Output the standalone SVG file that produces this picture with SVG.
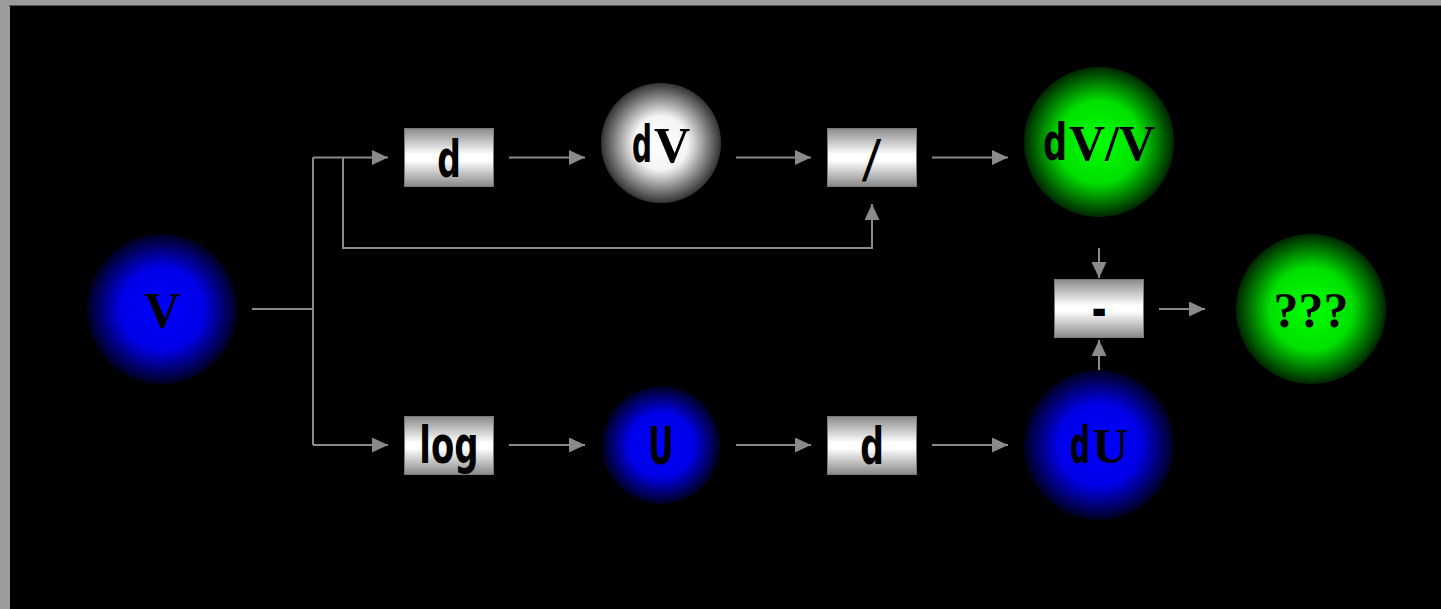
<svg xmlns="http://www.w3.org/2000/svg" width="1441" height="609" viewBox="0 0 1441 609">
  <style>
    .wire { fill: none; stroke: #8a8a8a; stroke-width: 2; }
    .arrow { marker-end: url(#head); }
    .box { stroke: #7a7a7a; stroke-width: 1; fill: url(#boxGrad); }
    .lbl { font-size: 50px; font-weight: bold; fill: #000; text-anchor: middle; }
    .serif { font-family: "Liberation Serif", "Times New Roman", serif; }
    .narrow { font-family: "DejaVu Sans", sans-serif; font-stretch: condensed; font-size: 51px; }
  </style>
  <defs>
    <marker id="head" markerUnits="userSpaceOnUse" markerWidth="16" markerHeight="15" refX="16" refY="7.5" orient="auto">
      <path d="M0,0 L16,7.5 L0,15 Z" fill="#8a8a8a"/>
    </marker>
    <linearGradient id="boxGrad" x1="0" y1="0" x2="0" y2="1">
      <stop offset="0" stop-color="#8a8a8a"/>
      <stop offset="0.45" stop-color="#ffffff"/>
      <stop offset="0.55" stop-color="#ffffff"/>
      <stop offset="1" stop-color="#888888"/>
    </linearGradient>
    <radialGradient id="blueGrad" cx="0.5" cy="0.5" r="0.5">
      <stop offset="0" stop-color="#0000ff"/>
      <stop offset="0.55" stop-color="#0000e8"/>
      <stop offset="1" stop-color="#000020"/>
    </radialGradient>
    <radialGradient id="greenGrad" cx="0.5" cy="0.5" r="0.5">
      <stop offset="0" stop-color="#00ff00"/>
      <stop offset="0.55" stop-color="#00e000"/>
      <stop offset="1" stop-color="#002600"/>
    </radialGradient>
    <radialGradient id="whiteGrad" cx="0.5" cy="0.5" r="0.5">
      <stop offset="0" stop-color="#ffffff"/>
      <stop offset="0.45" stop-color="#f4f4f4"/>
      <stop offset="1" stop-color="#333333"/>
    </radialGradient>
  </defs>

  <rect x="0" y="0" width="1441" height="609" fill="#9c9c9c"/>
  <rect x="9" y="5" width="1432" height="1.5" fill="#555555"/>
  <rect x="10" y="6" width="1431" height="603" fill="#000000"/>

  <g id="connectors">
    <path class="wire" d="M252,309 H313"/>
    <path class="wire" d="M313,157.5 V445"/>
    <path class="wire arrow" d="M313,157.5 H388"/>
    <path class="wire arrow" d="M313,445 H388"/>
    <path class="wire arrow" d="M343,157.5 V248 H872 V204"/>
    <path class="wire arrow" d="M509,157.5 H585"/>
    <path class="wire arrow" d="M736,157.5 H811"/>
    <path class="wire arrow" d="M932,157.5 H1008"/>
    <path class="wire arrow" d="M509,445 H585"/>
    <path class="wire arrow" d="M736,445 H811"/>
    <path class="wire arrow" d="M932,445 H1008"/>
    <path class="wire arrow" d="M1099,248 V278"/>
    <path class="wire arrow" d="M1099,370 V340"/>
    <path class="wire arrow" d="M1159,309 H1205"/>
  </g>

  <g id="node-V">
    <circle cx="162" cy="309" r="75" fill="url(#blueGrad)"/>
    <text class="lbl serif" x="162" y="327">V</text>
  </g>
  <g id="node-d-top">
    <rect class="box" x="404.5" y="128.5" width="89" height="58"/>
    <text class="lbl narrow" transform="translate(449,177) scale(0.72,1)">d</text>
  </g>
  <g id="node-dV">
    <circle cx="661" cy="143" r="60" fill="url(#whiteGrad)"/>
    <text class="lbl serif" x="661" y="162"><tspan class="narrow" textLength="20" lengthAdjust="spacingAndGlyphs">d</tspan><tspan dx="2">V</tspan></text>
  </g>
  <g id="node-div">
    <rect class="box" x="827.5" y="128.5" width="89" height="58"/>
    <text class="lbl narrow" transform="translate(872,177) scale(0.8,1)" font-style="italic">/</text>
  </g>
  <g id="node-dVV">
    <circle cx="1099" cy="142" r="75" fill="url(#greenGrad)"/>
    <text class="lbl serif" x="1099" y="160"><tspan class="narrow" textLength="24" lengthAdjust="spacingAndGlyphs">d</tspan><tspan dx="2">V/V</tspan></text>
  </g>
  <g id="node-minus">
    <rect class="box" x="1054.5" y="279.5" width="89" height="58"/>
    <text class="lbl narrow" transform="translate(1099,327) scale(0.8,1)">-</text>
  </g>
  <g id="node-result">
    <circle cx="1311" cy="309" r="75" fill="url(#greenGrad)"/>
    <text class="lbl serif" x="1311" y="327">???</text>
  </g>
  <g id="node-log">
    <rect class="box" x="404.5" y="416.5" width="89" height="58"/>
    <text class="lbl narrow" transform="translate(449,463) scale(0.74,1)">log</text>
  </g>
  <g id="node-U">
    <circle cx="661" cy="445" r="59" fill="url(#blueGrad)"/>
    <text class="lbl narrow" transform="translate(661,464) scale(0.68,1)">U</text>
  </g>
  <g id="node-d-bottom">
    <rect class="box" x="827.5" y="416.5" width="89" height="58"/>
    <text class="lbl narrow" transform="translate(872,464) scale(0.72,1)">d</text>
  </g>
  <g id="node-dU">
    <circle cx="1099" cy="445" r="75" fill="url(#blueGrad)"/>
    <text class="lbl serif" x="1099" y="463"><tspan class="narrow" textLength="20" lengthAdjust="spacingAndGlyphs">d</tspan><tspan dx="2">U</tspan></text>
  </g>
</svg>
